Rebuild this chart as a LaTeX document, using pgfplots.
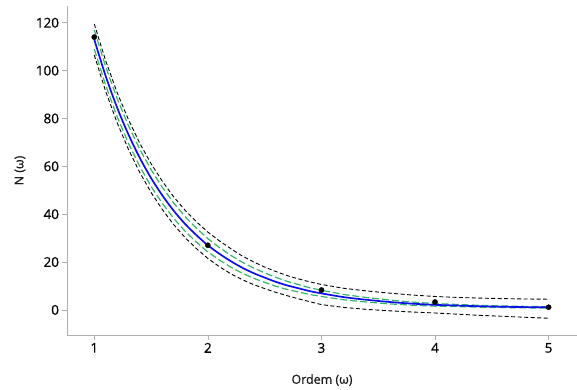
\documentclass[border=0pt]{standalone}
\usepackage{pgfplots}
\pgfplotsset{compat=1.18}
\usepackage{pgfplotstable}
\usepackage{fontspec}
\setmainfont{Open Sans}[FakeBold=0.6]
\definecolor{fitblue}{RGB}{15,15,235}
\definecolor{cigreen}{RGB}{55,180,105}
\definecolor{axgray}{RGB}{175,175,175}
\pgfplotstableread{
x fit bh bl gh gl
1.0 113.0 119.5 106.5 117.0 109.0
1.1 97.8 104.2 91.4 101.7 93.9
1.2 84.7 91.0 78.4 88.5 80.9
1.3 73.4 79.6 67.2 77.1 69.7
1.4 63.6 69.7 57.5 67.2 60.0
1.5 55.1 61.1 49.1 58.6 51.6
1.6 47.8 53.7 41.9 51.15 44.45
1.7 41.4 47.2 35.6 44.6 38.2
1.8 35.9 41.6 30.2 38.95 32.85
1.9 31.2 36.8 25.6 34.1 28.3
2.0 27.0 32.5 21.5 29.8 24.2
2.1 23.5 28.9 18.1 26.1 20.9
2.2 20.4 25.65 15.15 22.85 17.95
2.3 17.7 22.6 12.7 20.0 15.4
2.4 15.4 20.1 10.6 17.55 13.25
2.5 13.5 17.9 8.9 15.5 11.5
2.6 11.7 16.0 7.3 13.55 9.85
2.7 10.2 14.3 5.9 11.9 8.5
2.8 9.0 12.9 4.6 10.55 7.45
2.9 7.8 11.7 3.4 9.2 6.4
3.0 6.9 10.6 2.2 8.2 5.6
3.2 5.3 9.0 1.0 6.4 4.2
3.4 4.2 7.9 0.2 5.15 3.25
3.6 3.3 7.0 -0.4 4.1 2.5
3.8 2.6 6.2 -0.9 3.25 1.95
4.0 2.1 5.6 -1.3 2.65 1.55
4.2 1.8 5.2 -1.8 2.25 1.35
4.4 1.5 4.9 -2.3 1.9 1.1
4.6 1.3 4.7 -2.7 1.65 0.95
4.8 1.15 4.55 -3.1 1.45 0.85
5.0 1.04 4.45 -3.5 1.34 0.74
}\fitdata
\pgfplotstableread{
x y
1 114
2 27
3 8.3
4 3.3
5 1.1
}\obsdata
\begin{document}
\begin{tikzpicture}
\begin{axis}[
  name=ax,
  scale only axis,
  width=510bp, height=329bp,
  xmin=0.76, xmax=5.25,
  ymin=-10.5, ymax=127,
  axis x line*=bottom, axis y line*=left,
  axis line style={axgray, line width=0.9pt, -},
  xtick={1,2,3,4,5}, ytick={0,20,40,60,80,100,120},
  tick style={axgray, line width=0.6pt},
  tick align=outside, major tick length=4.5bp,
  /pgf/number format/assume math mode=true,
  ticklabel style={font=\fontsize{13.5}{16}\selectfont, text=black},
  xlabel={Ordem (ω)}, ylabel={N (ω)},
  label style={font=\fontsize{12.5}{15}\selectfont, text=black!90},
  xlabel style={at={(axis description cs:0.5,-0.1368)}, anchor=center},
  ylabel style={at={(axis description cs:-0.0922,0.5)}, anchor=center},
  clip=false,
]
\addplot[black, line width=0.9pt, dash pattern=on 4pt off 2.5pt] table[x=x,y=bh]{\fitdata};
\addplot[black, line width=0.9pt, dash pattern=on 4pt off 2.5pt] table[x=x,y=bl]{\fitdata};
\addplot[cigreen, line width=1.2pt, dash pattern=on 7pt off 3pt] table[x=x,y=gh]{\fitdata};
\addplot[cigreen, line width=1.2pt, dash pattern=on 7pt off 3pt] table[x=x,y=gl]{\fitdata};
\addplot[fitblue, line width=1.7pt, smooth] table[x=x,y=fit]{\fitdata};
\addplot[only marks, mark=*, mark size=2.6pt, black] table[x=x,y=y]{\obsdata};
\end{axis}
\pgfresetboundingbox
\path ([xshift=-67bp,yshift=-55bp]ax.south west) rectangle ([yshift=6bp]ax.north east);
\end{tikzpicture}
\end{document}
